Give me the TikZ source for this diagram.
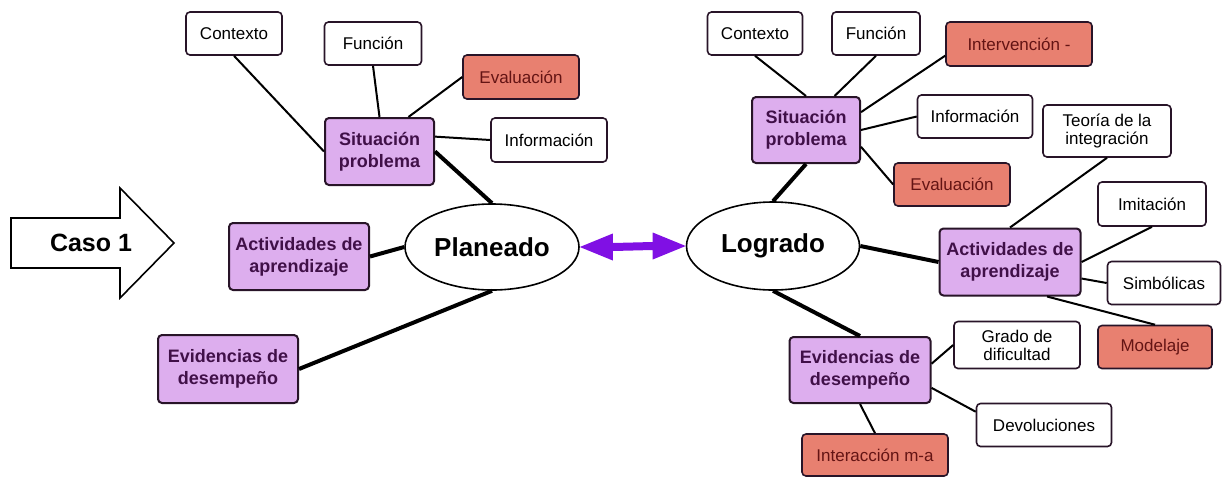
\documentclass[tikz,border=0pt]{standalone}
\usepackage{fontspec}
\setmainfont{Liberation Sans}
\usepackage{tikz}
\usetikzlibrary{calc}
\usetikzlibrary{positioning,shapes.geometric}
\usetikzlibrary{arrows.meta}

\definecolor{lila}{RGB}{221,174,238}
\definecolor{salmon}{RGB}{232,128,112}
\definecolor{violeta}{RGB}{128,16,228}
\definecolor{tintalila}{RGB}{64,16,72}
\definecolor{tintaroja}{RGB}{100,20,20}
\definecolor{borde}{RGB}{40,20,40}

\tikzset{
  hoja/.style={draw=borde, line width=1.6pt, rounded corners=4pt, fill=white, align=center,
    minimum height=43pt, inner sep=2pt, font=\fontsize{17}{19}\selectfont},
  roja/.style={hoja, fill=salmon, text=tintaroja},
  rama/.style={draw=borde, line width=2pt, rounded corners=4pt, fill=lila, text=tintalila, align=center,
    minimum height=67pt, inner sep=2pt, font=\fontsize{18}{22}\selectfont\bfseries},
  centro/.style={ellipse, draw=black, line width=1.6pt, fill=white, inner sep=0pt,
    font=\fontsize{26}{28}\selectfont\bfseries},
  fina/.style={line width=2pt},
  gruesa/.style={line width=4pt}
}

\begin{document}
\begin{tikzpicture}[x=1pt,y=-1pt]
\useasboundingbox (0,0) rectangle (1222,477);

\draw[line width=1.6pt, fill=white] (11,218) -- (120,218) -- (120,188) -- (174,243) -- (120,298) -- (120,268) -- (11,268) -- cycle;
\node[font=\fontsize{25}{27}\selectfont\bfseries] (caso) at (91,243) {Caso 1};

\node[centro, minimum width=174pt, minimum height=86pt] (plan) at (492,247) {Planeado};
\node[centro, minimum width=173pt, minimum height=88pt] (logB) at (773,246) {Logrado};

\node[hoja, minimum width=96pt] (ctxA) at (234,33.5) {Contexto};
\node[hoja, minimum width=97pt] (funA) at (373,43.5) {Función};
\node[roja, minimum width=116pt, minimum height=44pt] (evaA) at (521,77) {Evaluación};
\node[rama, minimum width=109pt] (sitA) at (379.5,151.5) {Situación\\problema};
\node[hoja, minimum width=116pt, minimum height=44pt] (infA) at (549,140) {Información};
\node[rama, minimum width=140pt] (actA) at (299,256.5) {Actividades de\\aprendizaje};
\node[rama, minimum width=140pt, minimum height=68pt] (eviA) at (228,369) {Evidencias de\\desempeño};

\node[hoja, minimum width=95pt] (ctxB) at (755,33.5) {Contexto};
\node[hoja, minimum width=88pt] (funB) at (876,33.5) {Función};
\node[roja, minimum width=146pt, minimum height=44pt] (intB) at (1019,44) {Intervención -};
\node[rama, minimum width=108pt, minimum height=66pt] (sitB) at (806,130) {Situación\\problema};
\node[hoja, minimum width=115pt] (infB) at (975,116.5) {Información};
\node[hoja, minimum width=128pt, minimum height=52pt, font=\fontsize{17}{18}\selectfont] (teoB) at (1107,131) {Teoría de la\\integración};
\node[roja, minimum width=116pt] (evaB) at (952,184.5) {Evaluación};
\node[hoja, minimum width=108pt, minimum height=44pt] (imiB) at (1152,204) {Imitación};
\node[rama, minimum width=141pt] (actB) at (1010,262) {Actividades de\\aprendizaje};
\node[hoja, minimum width=113pt] (simB) at (1164,283) {Simbólicas};
\node[roja, minimum width=114pt] (modB) at (1155,347) {Modelaje};
\node[hoja, minimum width=126pt, minimum height=47pt, font=\fontsize{17}{18}\selectfont] (grdB) at (1017,345) {Grado de\\dificultad};
\node[rama, minimum width=141pt, minimum height=66pt] (eviB) at (860,370) {Evidencias de\\desempeño};
\node[hoja, minimum width=135pt] (devB) at (1044,425) {Devoluciones};
\node[roja, minimum width=146pt, minimum height=42pt] (imaB) at (875,455) {Interacción m-a};

\fill[violeta] (plan.east) -- ++(33,-13.5) -- ++(0,9.5) -- ($(logB.west)+(-33,-4)$) -- ++(0,-9.5) -- (logB.west)
  -- ++(-33,13.5) -- ++(0,-9.5) -- ($(plan.east)+(33,4)$) -- ++(0,9.5) -- cycle;

\draw[fina] (ctxA.south) -- (sitA.west);
\draw[fina] (funA.south) -- (sitA.north);
\draw[fina] (evaA.west) -- (sitA.50);
\draw[fina] (infA.west) -- (sitA.15);
\draw[gruesa] (sitA.east) -- (plan.north);
\draw[gruesa] (actA.east) -- (plan.west);
\draw[gruesa] (eviA.east) -- (plan.south);

\draw[fina] (ctxB.south) -- (sitB.north);
\draw[fina] (funB.south) -- (sitB.50);
\draw[fina] (intB.189) -- (sitB.18);
\draw[fina] (infB.west) -- (sitB.east);
\draw[fina] (evaB.west) -- (sitB.-17);
\draw[gruesa] (sitB.south) -- (logB.north);
\draw[gruesa] (logB.east) -- (actB.west);
\draw[gruesa] (logB.south) -- (eviB.north);
\draw[fina] (teoB.south) -- (actB.north);
\draw[fina] (imiB.south) -- (actB.east);
\draw[fina] (simB.west) -- (actB.-13);
\draw[fina] (modB.north) -- (actB.-43);
\draw[fina] (grdB.west) -- (eviB.5);
\draw[fina] (devB.169) -- (eviB.-14);
\draw[fina] (imaB.north) -- (eviB.south);

\end{tikzpicture}
\end{document}
